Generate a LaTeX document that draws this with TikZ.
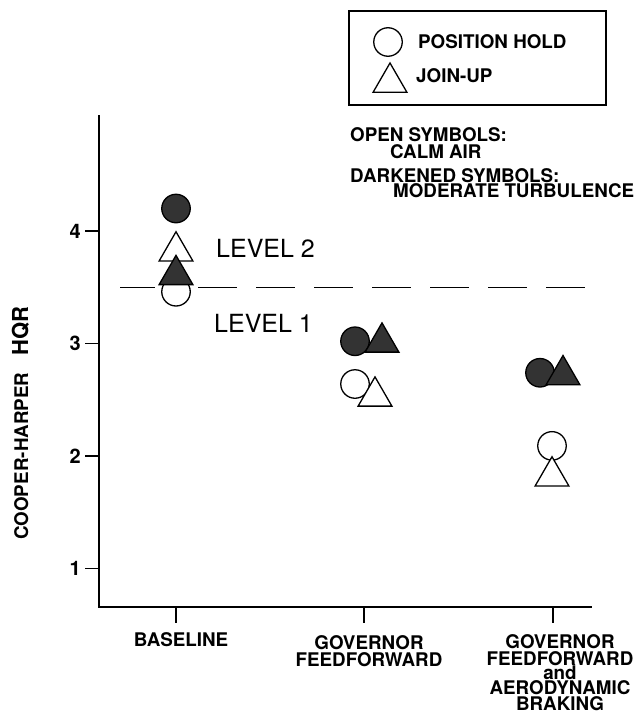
\documentclass[tikz,border=0pt]{standalone}
\usepackage{fontspec}
\setmainfont{TeX Gyre Heros}
\usetikzlibrary{shapes.geometric,positioning}
\tikzset{
every node/.style={inner sep=0pt}, % text sits right on its anchor
symb/.style={draw, line width=1.3pt, fill=white},
opencirc/.style={symb, circle, minimum size=28.5pt}, % calm air
darkcirc/.style={opencirc, fill=black!80}, % moderate turbulence
opentri/.style={symb, regular polygon, regular polygon sides=3, minimum size=39pt},
darktri/.style={opentri, fill=black!80},
lbl/.style={font=\bfseries\fontsize{18.8}{15.5}\selectfont, align=center},
ticklbl/.style={font=\bfseries\fontsize{20}{20}\selectfont, anchor=east},
levlbl/.style={font=\fontsize{25}{30}\selectfont, anchor=west},
axis/.style={line width=1.6pt},
levline/.style={line width=1.3pt, dash pattern=on 38.5pt off 19.5pt},
}
\newcommand{\hq}[1]{681-112.5*#1} % HQR value -> picture y

\begin{document}
\begin{tikzpicture}[x=1pt, y=-1pt]
\useasboundingbox (0,0) rectangle (637,720);

% axes
\coordinate (ytop) at (99,115);
\coordinate (orig) at (99,607);
\coordinate (xend) at (592,607);
\draw[axis] (ytop) -- (orig) -- (xend);
\foreach \v in {1,...,4} {
  \draw[axis] (85,{\hq{\v}}) -- (99,{\hq{\v}});
  \node[ticklbl] (t\v) at (81,{\hq{\v}}) {\v};
}
\foreach \x in {176,364,553}
  \draw[axis] (\x,607) -- (\x,623);

\node[lbl, rotate=90, anchor=base west] (ylab) at (28,540)
  {COOPER-HARPER\hspace{17pt}{\fontsize{22}{22}\selectfont HQR}};

\node[lbl, anchor=north] (xb) at (181,632) {BASELINE};
\node[lbl, anchor=north] (xg) at (369,635) {GOVERNOR\\[2pt]FEEDFORWARD};
\node[lbl, anchor=north] (xa) at (560,634)
  {GOVERNOR\\[2pt]FEEDFORWARD\\[-2pt]and\\AERODYNAMIC\\BRAKING};

% level 1/2 boundary
\coordinate (l0) at (120,{\hq{3.5}});
\coordinate (l1) at (155,{\hq{3.5}});
\coordinate (l2) at (198,{\hq{3.5}});
\coordinate (l3) at (585,{\hq{3.5}});
\draw[line width=1.3pt] (l0) -- (l1);
\draw[levline] (l2) -- (l3);
\node[levlbl] (lv2) at (216,248) {LEVEL 2};
\node[levlbl] (lv1) at (214,323) {LEVEL 1};

% baseline
\node[opencirc] (bco) at (176,{\hq{3.46}}) {};
\node[opentri] (bto) at (176,{\hq{3.82}}) {};
\node[darktri] (btd) at (176,{\hq{3.61}}) {};
\node[darkcirc] (bcd) at (176,{\hq{4.20}}) {};

% governor feedforward
\node[opencirc] (gco) at (355,{\hq{2.64}}) {};
\node[opentri] (gto) at (375,{\hq{2.53}}) {};
\node[darkcirc] (gcd) at (355,{\hq{3.02}}) {};
\node[darktri] (gtd) at (382,{\hq{3.01}}) {};

% governor feedforward and aerodynamic braking
\node[opencirc] (aco) at (552,{\hq{2.09}}) {};
\node[opentri] (ato) at (552,{\hq{1.82}}) {};
\node[darkcirc] (acd) at (540,{\hq{2.74}}) {};
\node[darktri] (atd) at (563,{\hq{2.72}}) {};

% legend
\node[draw, line width=1.2pt, minimum width=257pt, minimum height=94pt] (key) at (477.5,58) {};
\node[opencirc] (kc) at (388,42) {};
\node[opentri] (kt) at (390,82.5) {};
\node[lbl, anchor=west] (kct) at (418,42) {POSITION HOLD};
\node[lbl, anchor=west] (ktt) at (416,76) {JOIN-UP};

\node[lbl, anchor=west] (n1) at (350,134.5) {OPEN SYMBOLS:};
\node[lbl, anchor=west] (n2) at (390,151.5) {CALM AIR};
\node[lbl, anchor=west] (n3) at (350,175.5) {DARKENED SYMBOLS:};
\node[lbl, anchor=west] (n4) at (393,191) {MODERATE TURBULENCE};
\end{tikzpicture}
\end{document}
